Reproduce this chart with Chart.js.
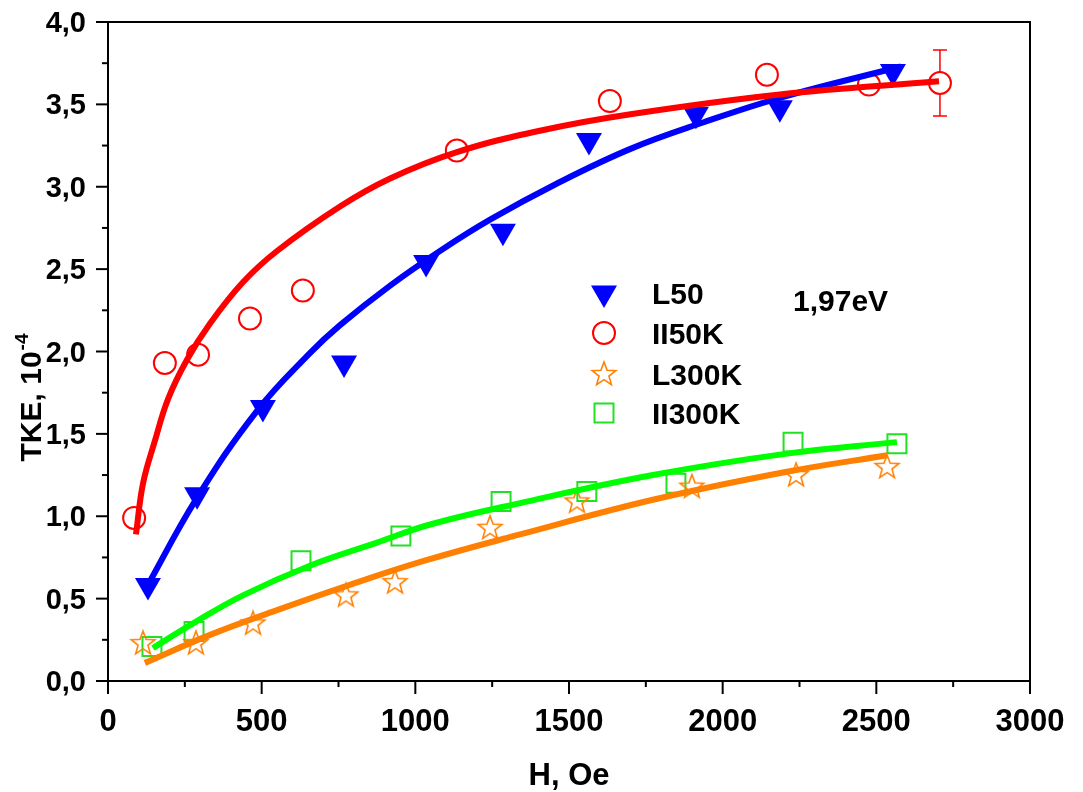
<!DOCTYPE html>
<html>
<head>
<meta charset="utf-8">
<script src="https://cdn.jsdelivr.net/npm/chart.js@4/dist/chart.umd.min.js"></script>
<style>
  body { margin: 0; background: #fff; }
  #wrap { width: 1083px; height: 792px; }
</style>
</head>
<body>
<div id="wrap"><canvas id="c" width="1083" height="792"></canvas></div>
<script>
// measured points
const H_L50 = [130, 290, 504, 768, 1035, 1285, 1565, 1913, 2186, 2554];
const TKE_L50 = [0.58, 1.13, 1.66, 1.93, 2.54, 2.73, 3.28, 3.44, 3.48, 3.70];

const H_II50K = [85, 185, 293, 462, 634, 1135, 1633, 2144, 2476, 2707];
const TKE_II50K = [0.99, 1.93, 1.98, 2.20, 2.37, 3.22, 3.52, 3.68, 3.62, 3.63];

const H_L300K = [114, 286, 472, 774, 934, 1243, 1526, 1900, 2239, 2535];
const TKE_L300K = [0.23, 0.23, 0.35, 0.52, 0.60, 0.93, 1.09, 1.18, 1.25, 1.30];

const H_II300K = [143, 280, 628, 953, 1279, 1558, 1848, 2229, 2567];
const TKE_II300K = [0.21, 0.30, 0.73, 0.88, 1.09, 1.15, 1.20, 1.45, 1.44];

// fitted curves
const H_FIT_L50 = [120, 289, 485, 657, 755, 918, 1080, 1243, 1461, 1700, 1936, 2186, 2580];
const TKE_FIT_L50 = [0.55, 1.11, 1.64, 1.99, 2.16, 2.40, 2.61, 2.80, 3.02, 3.23, 3.39, 3.54, 3.73];

const H_FIT_II50K = [91, 114, 153, 195, 257, 332, 439, 550, 755, 918, 1135, 1405, 1700, 2186, 2704];
const TKE_FIT_II50K = [0.89, 1.20, 1.46, 1.71, 1.95, 2.17, 2.42, 2.61, 2.88, 3.05, 3.21, 3.34, 3.44, 3.56, 3.64];

const H_FIT_L300K = [120, 332, 550, 765, 1030, 1341, 1773, 2209, 2535];
const TKE_FIT_L300K = [0.11, 0.28, 0.43, 0.57, 0.73, 0.89, 1.10, 1.27, 1.37];

const H_FIT_II300K = [146, 277, 439, 657, 875, 1048, 1341, 1773, 2209, 2567];
const TKE_FIT_II300K = [0.20, 0.35, 0.52, 0.70, 0.84, 0.95, 1.08, 1.25, 1.38, 1.45];

// error bar on last II50K point
const ERR_H = [2707];
const ERR_TKE = [3.63];
const ERR_SIZE = [0.2];

const LEGEND_LABELS = ['L50', 'II50K', 'L300K', 'II300K'];
const NOTE = '1,97eV';

const BLUE = '#0000ff', RED = '#ff0000', ORANGE = '#ff8000', GREEN = '#00ff00', GREEN_MK = '#22e022';
const FONT = '"Liberation Sans", Arial, sans-serif';

function pts(xs, ys) { return xs.map((x, i) => ({ x: x, y: ys[i] })); }

function starPath(ctx, cx, cy, R, r) {
  ctx.beginPath();
  for (let i = 0; i < 10; i++) {
    const rad = i % 2 === 0 ? R : r;
    const a = -Math.PI / 2 + i * Math.PI / 5;
    const px = cx + rad * Math.cos(a), py = cy + rad * Math.sin(a);
    if (i === 0) ctx.moveTo(px, py); else ctx.lineTo(px, py);
  }
  ctx.closePath();
}

// star marker image
const star = document.createElement('canvas');
star.width = 28; star.height = 28;
(function () {
  const s = star.getContext('2d');
  s.strokeStyle = ORANGE;
  s.lineWidth = 1.6;
  starPath(s, 14, 14.5, 12.5, 5.2);
  s.stroke();
})();

function scatterSet(xs, ys, style, color, radius, extra) {
  return Object.assign({
    type: 'scatter',
    data: pts(xs, ys),
    pointStyle: style,
    pointRadius: radius,
    pointBorderColor: color,
    pointBackgroundColor: 'rgba(0,0,0,0)',
    pointBorderWidth: 2,
    showLine: false,
    order: 1
  }, extra || {});
}

function fitSet(xs, ys, color) {
  return {
    type: 'line',
    data: pts(xs, ys),
    borderColor: color,
    borderWidth: 6,
    pointRadius: 0,
    fill: false,
    tension: 0.4,
    order: 0
  };
}

const frame = {
  id: 'frame',
  afterDraw(chart) {
    const { ctx, chartArea: a, scales: { x, y } } = chart;
    ctx.save();
    ctx.strokeStyle = '#000';
    ctx.fillStyle = '#000';
    ctx.lineWidth = 2;
    ctx.strokeRect(a.left, a.top, a.right - a.left, a.bottom - a.top);

    ctx.font = 'bold 31px ' + FONT;
    ctx.textAlign = 'center';
    ctx.textBaseline = 'alphabetic';
    x.ticks.forEach(t => {
      const px = x.getPixelForValue(t.value);
      const major = t.value % 500 === 0;
      ctx.beginPath();
      ctx.moveTo(px, a.bottom);
      ctx.lineTo(px, a.bottom + (major ? 13 : 6));
      ctx.stroke();
      if (major) ctx.fillText(String(t.value), px, a.bottom + 50);
    });

    ctx.font = 'bold 29px ' + FONT;
    ctx.textAlign = 'right';
    y.ticks.forEach(t => {
      const py = y.getPixelForValue(t.value);
      const major = Math.abs(t.value * 2 - Math.round(t.value * 2)) < 1e-6;
      ctx.beginPath();
      ctx.moveTo(a.left - (major ? 12 : 6), py);
      ctx.lineTo(a.left, py);
      ctx.stroke();
      if (major) ctx.fillText(t.value.toFixed(1).replace('.', ','), a.left - 22, py + 10);
    });

    // axis titles
    ctx.font = 'bold 31px ' + FONT;
    ctx.textAlign = 'center';
    ctx.fillText('H, Oe', (a.left + a.right) / 2, 785);

    ctx.save();
    ctx.translate(41, 398);
    ctx.rotate(-Math.PI / 2);
    const main = 'TKE, 10';
    ctx.font = 'bold 30px ' + FONT;
    const w1 = ctx.measureText(main).width;
    ctx.font = 'bold 19px ' + FONT;
    const w2 = ctx.measureText('-4').width;
    ctx.textAlign = 'left';
    ctx.font = 'bold 30px ' + FONT;
    ctx.fillText(main, -(w1 + w2) / 2, 0);
    ctx.font = 'bold 19px ' + FONT;
    ctx.fillText('-4', -(w1 + w2) / 2 + w1 + 1, -13);
    ctx.restore();

    // error bar
    ctx.strokeStyle = RED;
    ctx.lineWidth = 1.5;
    ERR_H.forEach((h, i) => {
      const px = x.getPixelForValue(h);
      const top = y.getPixelForValue(ERR_TKE[i] + ERR_SIZE[i]);
      const bot = y.getPixelForValue(ERR_TKE[i] - ERR_SIZE[i]);
      const cTop = y.getPixelForValue(ERR_TKE[i]) - 11;
      const cBot = y.getPixelForValue(ERR_TKE[i]) + 11;
      ctx.beginPath();
      ctx.moveTo(px, top); ctx.lineTo(px, cTop);
      ctx.moveTo(px, cBot); ctx.lineTo(px, bot);
      ctx.moveTo(px - 7, top); ctx.lineTo(px + 7, top);
      ctx.moveTo(px - 7, bot); ctx.lineTo(px + 7, bot);
      ctx.stroke();
    });

    // legend
    const lx = 604, tx = 652;
    const rows = [293, 333, 374, 413];
    ctx.fillStyle = BLUE;
    ctx.beginPath();
    ctx.moveTo(lx, rows[0] + 15);
    ctx.lineTo(lx - 13, rows[0] - 7.5);
    ctx.lineTo(lx + 13, rows[0] - 7.5);
    ctx.closePath();
    ctx.fill();
    ctx.strokeStyle = RED;
    ctx.lineWidth = 2;
    ctx.beginPath();
    ctx.arc(lx, rows[1], 11, 0, Math.PI * 2);
    ctx.stroke();
    ctx.drawImage(star, lx - 14, rows[2] - 14);
    ctx.strokeStyle = GREEN_MK;
    ctx.strokeRect(lx - 9.5, rows[3] - 9.5, 19, 19);

    ctx.fillStyle = '#000';
    ctx.font = 'bold 30px ' + FONT;
    ctx.textAlign = 'left';
    LEGEND_LABELS.forEach((lab, i) => ctx.fillText(lab, tx, rows[i] + 11));
    ctx.fillText(NOTE, 793, 311);
    ctx.restore();
  }
};

new Chart(document.getElementById('c'), {
  type: 'scatter',
  data: {
    datasets: [
      fitSet(H_FIT_II50K, TKE_FIT_II50K, RED),
      fitSet(H_FIT_L50, TKE_FIT_L50, BLUE),
      fitSet(H_FIT_II300K, TKE_FIT_II300K, GREEN),
      fitSet(H_FIT_L300K, TKE_FIT_L300K, ORANGE),
      scatterSet(H_L50, TKE_L50, 'triangle', BLUE, 15, { pointBackgroundColor: BLUE, pointRotation: 180, pointBorderWidth: 0 }),
      scatterSet(H_II50K, TKE_II50K, 'circle', RED, 11),
      scatterSet(H_L300K, TKE_L300K, star, ORANGE, 12),
      scatterSet(H_II300K, TKE_II300K, 'rect', GREEN_MK, 13.4)
    ]
  },
  options: {
    responsive: false,
    animation: false,
    events: [],
    layout: { padding: { top: 22, right: 53, left: 0, bottom: 0 } },
    plugins: { legend: { display: false }, tooltip: { enabled: false } },
    scales: {
      x: {
        type: 'linear', min: 0, max: 3000,
        ticks: { display: false, stepSize: 250 },
        grid: { display: false },
        border: { display: false },
        afterFit: s => { s.height = 111; }
      },
      y: {
        type: 'linear', min: 0, max: 4,
        ticks: { display: false, stepSize: 0.25 },
        grid: { display: false },
        border: { display: false },
        afterFit: s => { s.width = 108; }
      }
    }
  },
  plugins: [frame]
});
</script>
</body>
</html>
